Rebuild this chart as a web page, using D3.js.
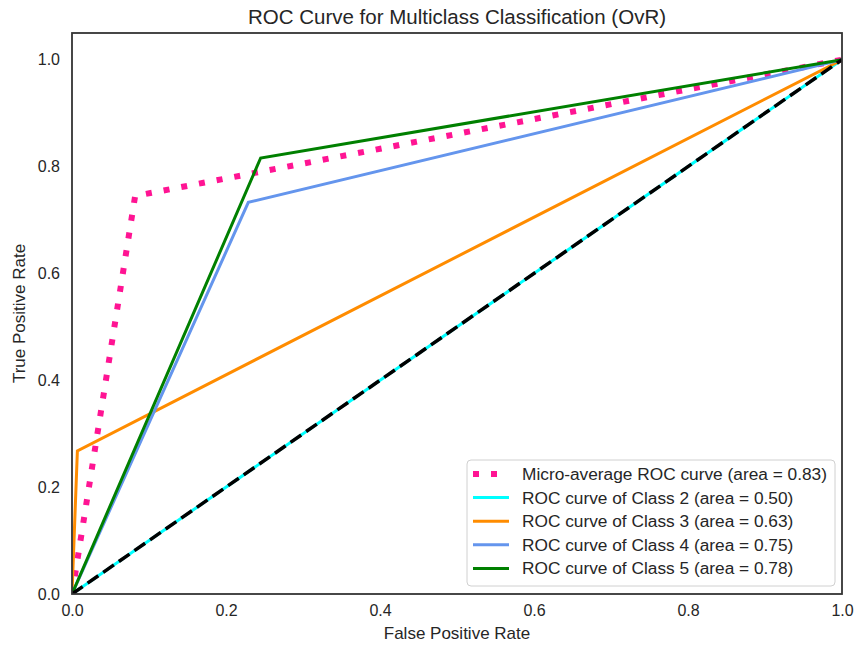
<!DOCTYPE html>
<html><head><meta charset="utf-8">
<script src="https://cdn.jsdelivr.net/npm/d3@7/dist/d3.min.js"></script>
<style>body{margin:0;background:#fff;} text{font-family:"Liberation Sans",Arial,sans-serif;fill:#262626;}</style>
</head><body><svg id="c" width="857" height="645"></svg>
<script>
const title = "ROC Curve for Multiclass Classification (OvR)";
const xTicks = [0.0, 0.2, 0.4, 0.6, 0.8, 1.0];
const yTicks = [0.0, 0.2, 0.4, 0.6, 0.8, 1.0];
const seriesNames = ["Micro-average ROC curve (area = 0.83)", "ROC curve of Class 2 (area = 0.50)", "ROC curve of Class 3 (area = 0.63)", "ROC curve of Class 4 (area = 0.75)", "ROC curve of Class 5 (area = 0.78)"];
const microFpr = [0, 0.082, 1];
const microTpr = [0, 0.745, 1];
const class2Fpr = [0, 1];
const class2Tpr = [0, 1];
const class3Fpr = [0, 0.007, 1];
const class3Tpr = [0, 0.268, 1];
const class4Fpr = [0, 0.229, 1];
const class4Tpr = [0, 0.733, 1];
const class5Fpr = [0, 0.245, 1];
const class5Tpr = [0, 0.816, 1];
const chanceFpr = [0, 1];
const chanceTpr = [0, 1];

const svg = d3.select("#c");
const m = {l:72, r:842, t:33, b:594};
const x = d3.scaleLinear().domain([0,1]).range([m.l, m.r]);
const y = d3.scaleLinear().domain([0,1.05]).range([m.b, m.t]);

svg.append("defs").append("clipPath").attr("id","clip").append("rect")
  .attr("x",m.l).attr("y",m.t).attr("width",m.r-m.l).attr("height",m.b-m.t);

const styles = [
  {color:"deeppink", w:6, dash:"6,12"},
  {color:"aqua", w:3, dash:null},
  {color:"darkorange", w:3, dash:null},
  {color:"cornflowerblue", w:3, dash:null},
  {color:"green", w:3, dash:null}
];
const data = [[microFpr,microTpr],[class2Fpr,class2Tpr],[class3Fpr,class3Tpr],[class4Fpr,class4Tpr],[class5Fpr,class5Tpr]];
const line = d3.line().x(d=>x(d[0])).y(d=>y(d[1]));
const g = svg.append("g").attr("clip-path","url(#clip)");
data.forEach((s,i)=>{
  const pts = s[0].map((v,j)=>[v,s[1][j]]);
  g.append("path").attr("d",line(pts)).attr("fill","none")
    .attr("stroke",styles[i].color).attr("stroke-width",styles[i].w)
    .attr("stroke-dasharray",styles[i].dash);
});
g.append("path").attr("d",line(chanceFpr.map((v,j)=>[v,chanceTpr[j]]))).attr("fill","none")
  .attr("stroke","black").attr("stroke-width",3.5).attr("stroke-dasharray","13,6");

// frame
svg.append("rect").attr("x",m.l).attr("y",m.t).attr("width",m.r-m.l).attr("height",m.b-m.t)
  .attr("fill","none").attr("stroke","#333").attr("stroke-width",1.8);

// axes
const xAxis = d3.axisBottom(x).tickValues(xTicks).tickFormat(d3.format(".1f")).tickSize(0).tickPadding(11);
const yAxis = d3.axisLeft(y).tickValues(yTicks).tickFormat(d3.format(".1f")).tickSize(0).tickPadding(12);
const gx = svg.append("g").attr("transform",`translate(0,${m.b})`).call(xAxis);
const gy = svg.append("g").attr("transform",`translate(${m.l},0)`).call(yAxis);
[gx,gy].forEach(a=>{a.select(".domain").remove(); a.selectAll("text").style("font-size","16px").attr("fill","#262626").style("font-family",'"Liberation Sans",Arial,sans-serif');});

svg.append("text").attr("x",(m.l+m.r)/2).attr("y",24).attr("text-anchor","middle").style("font-size","20.5px").text(title);
svg.append("text").attr("x",(m.l+m.r)/2).attr("y",639).attr("text-anchor","middle").style("font-size","17px").text("False Positive Rate");
svg.append("text").attr("transform",`translate(25,${(m.t+m.b)/2}) rotate(-90)`).attr("text-anchor","middle").style("font-size","17px").text("True Positive Rate");

// legend
const lg = svg.append("g");
lg.append("rect").attr("x",467).attr("y",460).attr("width",368).attr("height",126).attr("rx",4)
  .attr("fill","white").attr("fill-opacity",0.8).attr("stroke","#d0d0d0").attr("stroke-width",1);
seriesNames.forEach((n,i)=>{
  const yy = 474 + i*23.6;
  lg.append("line").attr("x1",473).attr("x2",509).attr("y1",yy).attr("y2",yy)
    .attr("stroke",styles[i].color).attr("stroke-width",styles[i].w).attr("stroke-dasharray",styles[i].dash);
  lg.append("text").attr("x",522).attr("y",yy+6).style("font-size","17.3px").text(n);
});
</script></body></html>
